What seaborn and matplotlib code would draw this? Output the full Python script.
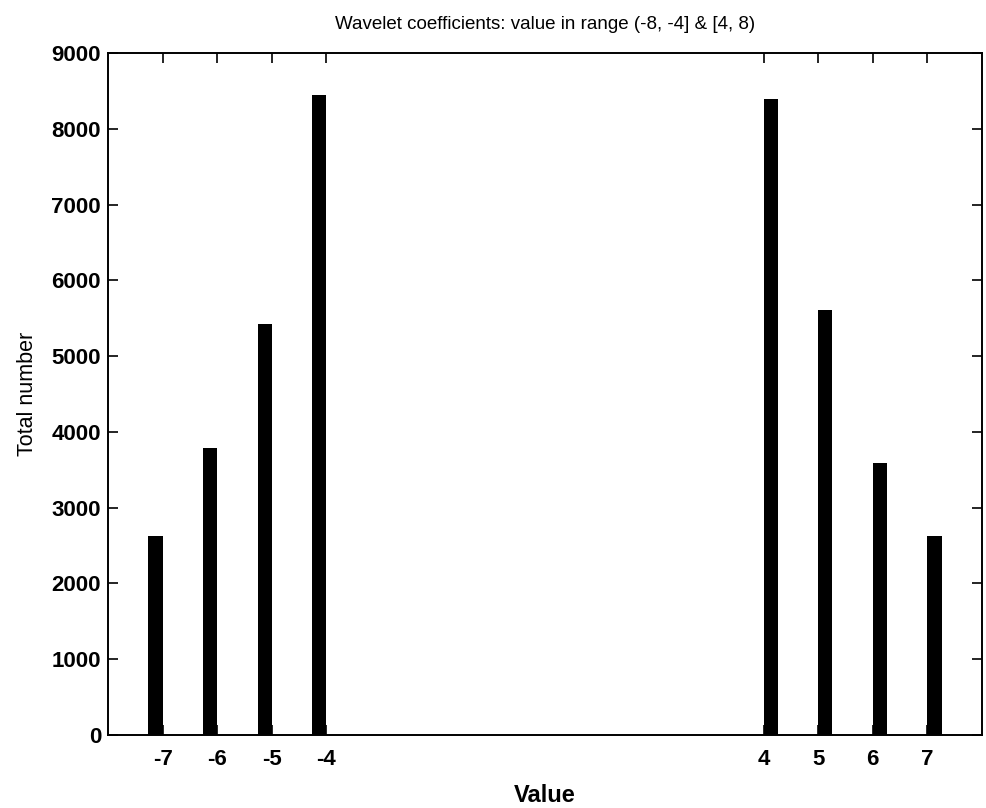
import matplotlib
matplotlib.use("Agg")
import matplotlib.pyplot as plt
import seaborn as sns
import pandas as pd

# ---- data ----
values = [-7, -6, -5, -4, 4, 5, 6, 7]
counts = [2630, 3790, 5430, 8450, 8390, 5610, 3590, 2620]
side = ["neg", "neg", "neg", "neg", "pos", "pos", "pos", "pos"]
xtick_labels = ["-7", "-6", "-5", "-4", "4", "5", "6", "7"]
yticks = [0, 1000, 2000, 3000, 4000, 5000, 6000, 7000, 8000, 9000]
title = "Wavelet coefficients: value in range (-8, -4] & [4, 8)"

df = pd.DataFrame({"Value": values, "Total number": counts, "side": side})

sns.set_style("ticks")
plt.rcParams["font.family"] = ["Liberation Sans", "DejaVu Sans"]
plt.rcParams["axes.unicode_minus"] = False
plt.rcParams["text.color"] = "black"
plt.rcParams["axes.labelcolor"] = "black"
plt.rcParams["xtick.color"] = "black"
plt.rcParams["ytick.color"] = "black"

fig = plt.figure(figsize=(9.87, 8.08), dpi=100)
ax = fig.add_axes([0.1094, 0.0903, 0.8856, 0.8441])

sns.barplot(data=df, x="Value", y="Total number", hue="side",
            palette={"neg": "black", "pos": "black"}, native_scale=True,
            dodge=True, width=0.52, saturation=1, legend=False,
            linewidth=0, ax=ax)

ax.set_xlim(-8, 8)
ax.set_ylim(0, 9000)
ax.set_xticks(values)
ax.set_xticklabels(xtick_labels)
ax.set_yticks(yticks)
ax.set_yticklabels([str(v) for v in yticks])

for s in ax.spines.values():
    s.set_visible(True)
    s.set_linewidth(1.4)
    s.set_color("black")

ax.tick_params(axis="both", which="both", direction="in", top=True, right=True,
               length=7, width=1.2, labelsize=16, colors="black")
ax.tick_params(axis="y", pad=5)
ax.tick_params(axis="x", pad=10)
for lab in ax.get_xticklabels() + ax.get_yticklabels():
    lab.set_fontweight("bold")

ax.set_xlabel("Value", fontsize=17, fontweight="bold", labelpad=10, color="black")
ax.set_ylabel("Total number", fontsize=15.5, labelpad=10, color="black")
ax.set_title(title, fontsize=13.5, pad=17, color="black")

fig.savefig("out.png", dpi=100)
